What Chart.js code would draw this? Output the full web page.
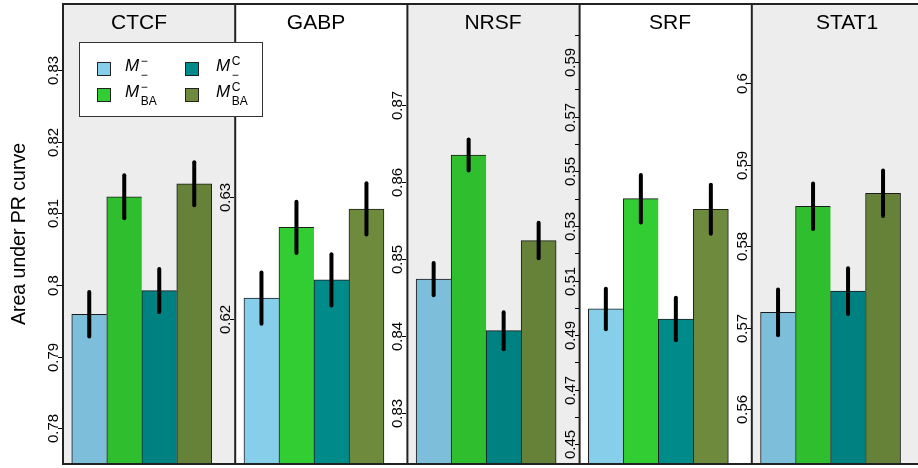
<!DOCTYPE html>
<html><head><meta charset="utf-8">
<script src="https://cdn.jsdelivr.net/npm/chart.js@4.4.1/dist/chart.umd.min.js"></script>
<style>html,body{margin:0;padding:0;overflow:hidden;background:#fff;width:918px;height:468px}canvas{display:block}</style>
</head><body>
<canvas id="c" width="925" height="468"></canvas>
<script>
// ---------- data ----------
const factors = ['CTCF', 'GABP', 'NRSF', 'SRF', 'STAT1'];
const methodSup = ['\u2212', '\u2212', 'C', 'C'];
const methodSub = ['\u2212', 'BA', '\u2212', 'BA'];
const methodColors = ['#87CEEB', '#32CD32', '#008B8B', '#6E8B3D'];

const aucCTCF  = [0.7959, 0.8123, 0.7992, 0.8141];
const errCTCF  = [0.0031, 0.0030, 0.0030, 0.0030];
const aucGABP  = [0.6217, 0.6275, 0.6232, 0.6290];
const errGABP  = [0.0021, 0.0021, 0.0021, 0.0021];
const aucNRSF  = [0.8474, 0.8635, 0.8407, 0.8524];
const errNRSF  = [0.0021, 0.0020, 0.0024, 0.0023];
const aucSRF   = [0.4996, 0.5400, 0.4959, 0.5361];
const errSRF   = [0.0074, 0.0087, 0.0078, 0.0090];
const aucSTAT1 = [0.5719, 0.5849, 0.5745, 0.5865];
const errSTAT1 = [0.0028, 0.0028, 0.0028, 0.0028];

const yMin = [0.7750, 0.6081, 0.8234, 0.4428, 0.5533];
const yMax = [0.8392, 0.6458, 0.8831, 0.6113, 0.6097];

const ticksCTCF  = [0.78, 0.79, 0.80, 0.81, 0.82, 0.83];
const labelsCTCF = ['0.78', '0.79', '0.8', '0.81', '0.82', '0.83'];
const ticksGABP  = [0.62, 0.63];
const labelsGABP = ['0.62', '0.63'];
const ticksNRSF  = [0.83, 0.84, 0.85, 0.86, 0.87];
const labelsNRSF = ['0.83', '0.84', '0.85', '0.86', '0.87'];
const ticksSRF   = [0.45, 0.46, 0.47, 0.48, 0.49, 0.50, 0.51, 0.52, 0.53, 0.54, 0.55, 0.56, 0.57, 0.58, 0.59, 0.60];
const labelsSRF  = ['0.45', '', '0.47', '', '0.49', '', '0.51', '', '0.53', '', '0.55', '', '0.57', '', '0.59', ''];
const ticksSTAT1  = [0.56, 0.57, 0.58, 0.59, 0.60];
const labelsSTAT1 = ['0.56', '0.57', '0.58', '0.59', '0.6'];

const shaded = [true, false, true, false, true];
const yTitle = 'Area under PR curve';

// ---------- layout ----------
const aucs = [aucCTCF, aucGABP, aucNRSF, aucSRF, aucSTAT1];
const errs = [errCTCF, errGABP, errNRSF, errSRF, errSTAT1];
const tickVals = [ticksCTCF, ticksGABP, ticksNRSF, ticksSRF, ticksSTAT1];
const tickLabels = [labelsCTCF, labelsGABP, labelsNRSF, labelsSRF, labelsSTAT1];
const PANEL = 4.92, FIRST = 0.75;
const FONT = '"Liberation Sans", Arial, Helvetica, sans-serif';

const datasets = factors.map((f, p) => ({
  label: f,
  data: aucs[p].map((v, i) => ({ x: p * PANEL + FIRST + i, y: v })),
  yAxisID: 'y' + p,
  backgroundColor: methodColors,
  borderColor: '#1e1e1e',
  borderWidth: c => c.dataIndex === 3 ? { left: 1, top: 1, right: 1, bottom: 0 } : { left: 1, top: 1, right: 0, bottom: 0 },
  borderSkipped: false,
  grouped: false,
  barThickness: 35
}));

const scales = { x: { type: 'linear', display: false, min: 0, max: factors.length * PANEL, offset: false } };
factors.forEach((f, p) => {
  scales['y' + p] = { type: 'linear', axis: 'y', position: 'left', display: false, min: yMin[p], max: yMax[p], beginAtZero: false };
});

const decor = {
  id: 'decor',
  afterDatasetsDraw(chart) {
    const c = chart.ctx, xs = chart.scales.x, a = chart.chartArea;
    c.save();
    // shaded panels (grey veil over everything in the panel)
    factors.forEach((f, p) => {
      if (!shaded[p]) return;
      const l = xs.getPixelForValue(p * PANEL), r = xs.getPixelForValue((p + 1) * PANEL);
      c.fillStyle = 'rgba(0,0,0,0.07)';
      c.fillRect(l, a.top, r - l, a.bottom - a.top);
    });
    // error bars
    c.strokeStyle = '#000'; c.lineWidth = 4; c.lineCap = 'round';
    factors.forEach((f, p) => {
      const ys = chart.scales['y' + p];
      chart.getDatasetMeta(p).data.forEach((bar, i) => {
        const v = aucs[p][i], e = errs[p][i];
        c.beginPath();
        c.moveTo(bar.x, ys.getPixelForValue(v + e));
        c.lineTo(bar.x, ys.getPixelForValue(v - e));
        c.stroke();
      });
    });
    // frame
    c.strokeStyle = '#222'; c.lineWidth = 2; c.lineCap = 'butt';
    c.beginPath();
    c.moveTo(a.left - 1, a.top); c.lineTo(a.right, a.top);
    c.moveTo(a.left - 1, a.bottom); c.lineTo(a.right, a.bottom);
    factors.forEach((f, p) => {
      const l = xs.getPixelForValue(p * PANEL);
      c.moveTo(l, a.top); c.lineTo(l, a.bottom);
    });
    c.stroke();
    // y ticks and rotated labels
    c.lineWidth = 1; c.strokeStyle = '#000'; c.fillStyle = '#000';
    c.font = '15px ' + FONT; c.textAlign = 'center'; c.textBaseline = 'alphabetic';
    factors.forEach((f, p) => {
      const ys = chart.scales['y' + p];
      const l = Math.round(xs.getPixelForValue(p * PANEL));
      tickVals[p].forEach((t, k) => {
        const y = Math.round(ys.getPixelForValue(t)) + 0.5;
        c.beginPath(); c.moveTo(l - 5, y); c.lineTo(l - 1, y); c.stroke();
        const lab = tickLabels[p][k];
        if (lab) {
          c.save(); c.translate(l - 5.5, y); c.rotate(-Math.PI / 2); c.fillText(lab, 0, 0); c.restore();
        }
      });
    });
    // panel titles
    c.font = '21px ' + FONT; c.textAlign = 'center';
    factors.forEach((f, p) => c.fillText(f, 139 + 177 * p, 28.5));
    // y axis title
    c.font = '19.5px ' + FONT;
    c.save(); c.translate(25, (a.top + a.bottom) / 2); c.rotate(-Math.PI / 2); c.fillText(yTitle, 0, 0); c.restore();
    // legend
    c.fillStyle = '#fff'; c.fillRect(79, 42, 184, 75);
    c.strokeStyle = '#333'; c.lineWidth = 1; c.strokeRect(79.5, 42.5, 183, 74);
    const colSq = [97.5, 185.5], colM = [125, 216], rowSq = [62.5, 88.5], rowBase = [71, 97];
    methodColors.forEach((col, k) => {
      const cc = Math.floor(k / 2), rr = k % 2;
      c.fillStyle = col; c.fillRect(colSq[cc], rowSq[rr], 13, 13);
      c.strokeStyle = '#222'; c.strokeRect(colSq[cc], rowSq[rr], 13, 13);
      c.fillStyle = '#000'; c.textAlign = 'left';
      c.font = 'italic 17px ' + FONT;
      c.fillText('M', colM[cc], rowBase[rr]);
      const sx = colM[cc] + c.measureText('M').width + 1.5;
      c.font = '12px ' + FONT;
      c.fillText(methodSup[k], sx, rowBase[rr] - 6);
      c.fillText(methodSub[k], sx, rowBase[rr] + 8);
    });
    c.restore();
  }
};

new Chart(document.getElementById('c'), {
  type: 'bar',
  data: { datasets },
  options: {
    responsive: false,
    animation: false,
    devicePixelRatio: 1,
    layout: { padding: { left: 63, right: 1, top: 4, bottom: 4 } },
    scales,
    plugins: { legend: { display: false }, tooltip: { enabled: false }, title: { display: false } }
  },
  plugins: [decor]
});
</script>
</body></html>
